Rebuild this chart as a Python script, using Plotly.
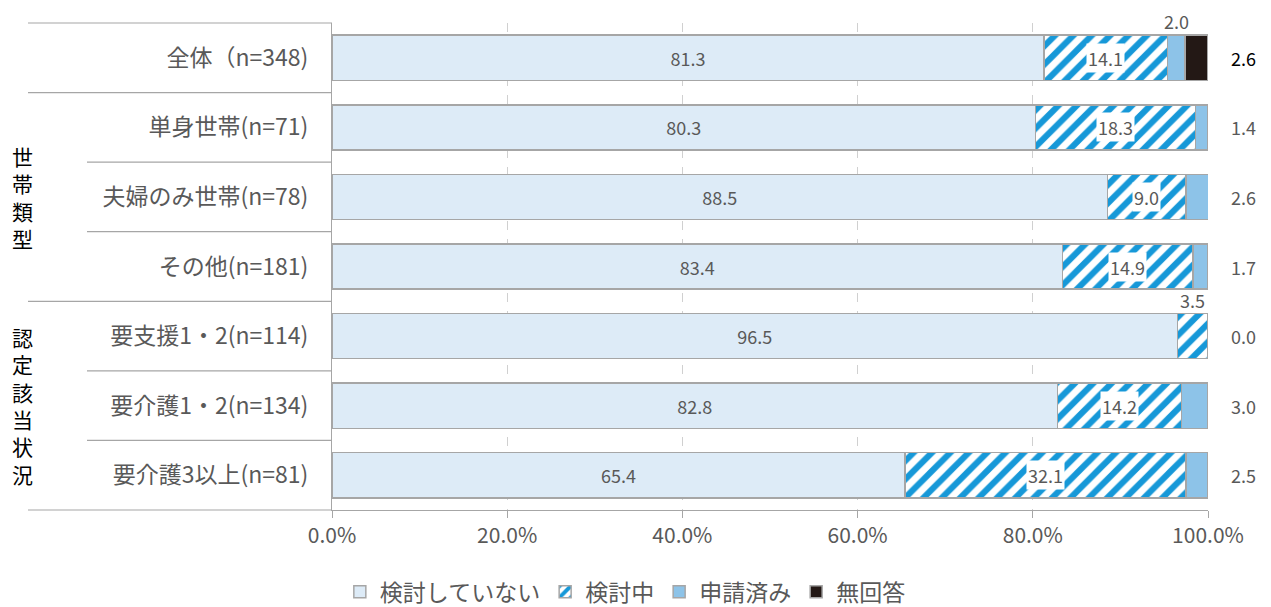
import plotly.graph_objects as go

# 行（上から順）
categories = ["全体（n=348)", "単身世帯(n=71)", "夫婦のみ世帯(n=78)", "その他(n=181)",
              "要支援1・2(n=114)", "要介護1・2(n=134)", "要介護3以上(n=81)"]
groups = [("世帯類型", 1, 3), ("認定該当状況", 4, 6)]

series_names = ["検討していない", "検討中", "申請済み", "無回答"]
not_considered = [81.3, 80.3, 88.5, 83.4, 96.5, 82.8, 65.4]
considering = [14.1, 18.3, 9.0, 14.9, 3.5, 14.2, 32.1]
applied = [2.0, 1.4, 2.6, 1.7, 0.0, 3.0, 2.5]
no_answer = [2.6, None, None, None, None, None, None]

x_ticks = [0, 20, 40, 60, 80, 100]

FONT = "Noto Sans CJK JP"
GRAY = "#595959"
EDGE = dict(color="#a6a6a6", width=1.5)
LBL = dict(size=18, color=GRAY, family=FONT)

fig = go.Figure()
fig.add_trace(go.Bar(
    y=categories, x=not_considered, name=series_names[0], orientation="h",
    marker=dict(color="#ddebf7", line=EDGE),
    text=[f"{v:.1f}" for v in not_considered], textposition="inside",
    insidetextanchor="middle", textfont=LBL,
))
fig.add_trace(go.Bar(
    y=categories, x=considering, name=series_names[1], orientation="h",
    marker=dict(color="white", line=EDGE,
                pattern=dict(shape="/", fgcolor="#1698d8", fgopacity=1, bgcolor="white",
                             size=13, solidity=0.48)),
))
fig.add_trace(go.Bar(
    y=categories, x=applied, name=series_names[2], orientation="h",
    marker=dict(color="#8dc3e8", line=EDGE),
))
fig.add_trace(go.Bar(
    y=categories, x=no_answer, name=series_names[3], orientation="h",
    marker=dict(color="#231815", line=EDGE),
))

ann = []
for i, cat in enumerate(categories):
    start = not_considered[i]
    c = considering[i]
    mid = start + c / 2
    if c >= 5:
        ann.append(dict(x=mid, y=cat, text=f"{c:.1f}", showarrow=False,
                        bgcolor="white", borderpad=1, font=LBL))
    else:
        ann.append(dict(x=mid, y=cat, text=f"{c:.1f}", showarrow=False, yshift=36, font=LBL))
    a = applied[i]
    if no_answer[i] is not None:
        ann.append(dict(x=start + c + a / 2, y=cat, text=f"{a:.1f}", showarrow=False,
                        yshift=37, font=LBL))
        ann.append(dict(x=100, y=cat, text=f"{no_answer[i]:.1f}", showarrow=False,
                        xshift=35, font=dict(size=18, color="#000000", family=FONT)))
    else:
        ann.append(dict(x=100, y=cat, text=f"{a:.1f}", showarrow=False,
                        xshift=35, font=LBL))

# グループ名（縦書き）
for name, r0, r1 in groups:
    ann.append(dict(xref="paper", x=(22 - 332) / 876, xanchor="center", yref="y",
                    y=categories[(r0 + r1) // 2], text="<br>".join(name), showarrow=False,
                    font=dict(size=21, color="#000000", family=FONT)))

# 左側の区切り線
n = len(categories)
full_lines = {0, 1, 4, n}
line_color = "#a6a6a6"
shapes = []
for k in range(n + 1):
    x0 = (28 - 332) / 876 if k in full_lines else (87 - 332) / 876
    shapes.append(dict(type="line", xref="paper", yref="paper", x0=x0, x1=0,
                       y0=1 - k / n, y1=1 - k / n, line=dict(color=line_color, width=1.2)))

fig.update_layout(
    barmode="stack", bargap=0.35,
    width=1271, height=607,
    margin=dict(l=332, r=63, t=23, b=97, autoexpand=False),
    plot_bgcolor="white", paper_bgcolor="white",
    font=dict(family=FONT, color=GRAY),
    annotations=ann, shapes=shapes,
    legend=dict(orientation="h", xref="container", x=0.492, xanchor="center",
                yref="container", y=0.025, yanchor="middle",
                font=dict(size=23, color=GRAY, family=FONT), traceorder="normal"),
    xaxis=dict(range=[0, 100], tickvals=x_ticks, ticktext=[f"{v:.1f}%" for v in x_ticks],
               showgrid=True, gridcolor="#d0d0d0", griddash="dash", gridwidth=1,
               showline=True, linecolor=line_color, linewidth=1.2,
               ticks="outside", ticklen=7, tickcolor=line_color,
               tickfont=dict(size=21, color=GRAY), zeroline=False),
    yaxis=dict(autorange="reversed", showline=True, linecolor=line_color, linewidth=1.2,
               ticks="", ticklabelstandoff=18,
               tickfont=dict(size=23, color=GRAY)),
)

fig.write_html("out.html", config={"displayModeBar": False},
               post_script="document.body.style.margin='0';")
